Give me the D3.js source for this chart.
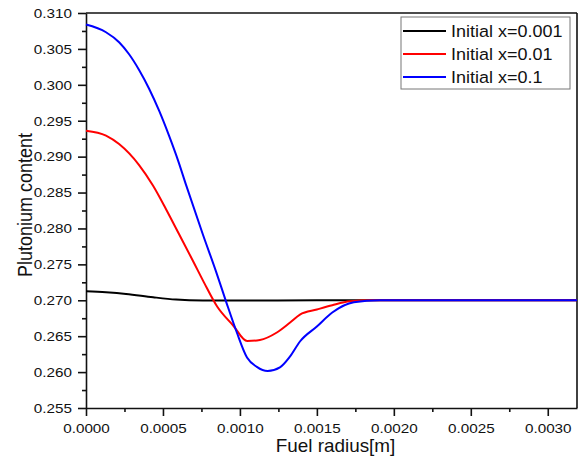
<!DOCTYPE html>
<meta charset="utf-8">
<style>
  body { margin: 0; background: #fff; font-family: "Liberation Sans", Arial, sans-serif; }
  .axis path, .axis line { fill: none; stroke: #111; stroke-width: 1.6px; }
  .axis text { fill: #111; font-size: 13.5px; font-family: "Liberation Sans", Arial, sans-serif; }
  .minor line { stroke: #111; stroke-width: 1.6px; }
  .minor path { display: none; }
  .line { fill: none; stroke-width: 2px; }
</style>
<body>
<script src="https://d3js.org/d3.v7.min.js"></script>
<script>

// fuel radius [m] and plutonium content, one pair of arrays per curve
var blackR = [0, 0.00013, 0.00026, 0.000436, 0.000585, 0.00076, 0.0011, 0.0015, 0.0021, 0.0025, 0.0029, 0.00319];
var blackPu = [0.27125, 0.27111, 0.27089, 0.27042, 0.27010, 0.26997, 0.26996, 0.26999, 0.27, 0.27, 0.27, 0.27];

var redR = [0, 0.00013, 0.000215, 0.000345, 0.000436, 0.00052, 0.000605, 0.000696, 0.000767, 0.000852,
  0.000956, 0.001047, 0.00113, 0.00124, 0.001326, 0.00139, 0.0015, 0.0016, 0.001716, 0.00185,
  0.0021, 0.0025, 0.0029, 0.00319];
var redPu = [0.29361, 0.29293, 0.29175, 0.28882, 0.28594, 0.28268, 0.27919, 0.27544, 0.27246, 0.26913,
  0.26649, 0.26433, 0.26447, 0.26551, 0.26690, 0.26801, 0.26871, 0.26931, 0.26985, 0.26999,
  0.27, 0.27, 0.27, 0.27];

var blueR = [0, 0.00013, 0.000215, 0.00028, 0.000345, 0.00041, 0.000475, 0.00054, 0.0006, 0.00065,
  0.00076, 0.000845, 0.00091, 0.00098, 0.001046, 0.00111, 0.00118, 0.00126, 0.001326, 0.00139,
  0.0015, 0.0016, 0.00174, 0.00191, 0.0021, 0.0025, 0.0029, 0.00319];
var bluePu = [0.30839, 0.30732, 0.30593, 0.30426, 0.30207, 0.29946, 0.29640, 0.29289, 0.28935, 0.28607,
  0.27913, 0.27399, 0.26982, 0.26551, 0.26204, 0.26072, 0.26014, 0.26065, 0.26218, 0.26426,
  0.26635, 0.26829, 0.26972, 0.26999, 0.27, 0.27, 0.27, 0.27];

var seriesNames = ["Initial x=0.001", "Initial x=0.01", "Initial x=0.1"];
var seriesColors = ["#000000", "#ff0000", "#0000ff"];

var xTicks = [0, 0.0005, 0.001, 0.0015, 0.002, 0.0025, 0.003];
var yTicks = [0.255, 0.26, 0.265, 0.27, 0.275, 0.28, 0.285, 0.29, 0.295, 0.3, 0.305, 0.31];

var margin = {top: 13, right: 1, bottom: 52, left: 86},
    width = 578 - margin.left - margin.right,
    height = 460 - margin.top - margin.bottom;

var stretch = 1.13; // the original text looks a bit wide

var svg = d3.select("body").append("svg")
    .attr("width", 578)
    .attr("height", 460)
  .append("g")
    .attr("transform", "translate(" + margin.left + "," + margin.top + ")");

var x = d3.scaleLinear().domain([0, 0.00319]).range([0, width]);
var y = d3.scaleLinear().domain([0.255, 0.31]).range([height, 0]);

// minor ticks
svg.append("g")
    .attr("class", "minor")
    .attr("transform", "translate(0," + height + ")")
    .call(d3.axisBottom(x).tickValues(d3.range(0.00025, 0.0032, 0.0005)).tickSize(4).tickFormat(""));
svg.append("g")
    .attr("class", "minor")
    .call(d3.axisLeft(y).tickValues(d3.range(0.2575, 0.31, 0.005)).tickSize(4).tickFormat(""));

svg.append("g")
    .attr("class", "x axis")
    .attr("transform", "translate(0," + height + ")")
    .call(d3.axisBottom(x).tickValues(xTicks).tickSize(8).tickSizeOuter(0).tickPadding(7)
      .tickFormat(d3.format(".4f")))
  .selectAll("text")
    .attr("transform", "scale(" + stretch + ",1)");

svg.append("g")
    .attr("class", "y axis")
    .call(d3.axisLeft(y).tickValues(yTicks).tickSize(8).tickSizeOuter(0).tickPadding(6)
      .tickFormat(d3.format(".3f")))
  .selectAll("text")
    .attr("x", -14 / stretch)
    .attr("transform", "scale(" + stretch + ",1)");

// frame top and right
svg.append("line").attr("x1", 0).attr("x2", width).attr("y1", 0).attr("y2", 0)
    .attr("stroke", "#111").attr("stroke-width", 1.6);
svg.append("line").attr("x1", width).attr("x2", width).attr("y1", 0).attr("y2", height)
    .attr("stroke", "#111").attr("stroke-width", 1.6);

var line = d3.line()
    .x(function(d) { return x(d[0]); })
    .y(function(d) { return y(d[1]); })
    .curve(d3.curveMonotoneX);

var series = [
  d3.zip(blackR, blackPu),
  d3.zip(redR, redPu),
  d3.zip(blueR, bluePu)
];

series.forEach(function(s, i) {
  svg.append("path")
      .datum(s)
      .attr("class", "line")
      .attr("stroke", seriesColors[i])
      .attr("d", line);
});

// legend
var legend = svg.append("g").attr("transform", "translate(" + (401 - margin.left) + "," + (17 - margin.top) + ")");
legend.append("rect")
    .attr("width", 169).attr("height", 72)
    .attr("fill", "#fff").attr("stroke", "#777").attr("stroke-width", 1);
seriesNames.forEach(function(name, i) {
  var yy = 14 + i * 23;
  legend.append("line").attr("x1", 2).attr("x2", 45).attr("y1", yy).attr("y2", yy)
      .attr("stroke", seriesColors[i]).attr("stroke-width", 2);
  legend.append("text")
      .attr("transform", "translate(50," + (yy + 6) + ") scale(1.09,1)")
      .style("font-size", "16.5px").attr("fill", "#111").text(name);
});

svg.append("text")
    .attr("transform", "translate(" + (width / 2 + 4) + "," + (height + 44) + ") scale(1.05,1)")
    .attr("text-anchor", "middle")
    .style("font-size", "18px")
    .attr("fill", "#111")
    .text("Fuel radius[m]");

svg.append("text")
    .attr("transform", "translate(" + (32 - margin.left) + "," + (205 - margin.top) + ") rotate(-90) scale(1," + stretch + ")")
    .attr("text-anchor", "middle")
    .style("font-size", "18px")
    .attr("fill", "#111")
    .text("Plutonium content");

</script>
